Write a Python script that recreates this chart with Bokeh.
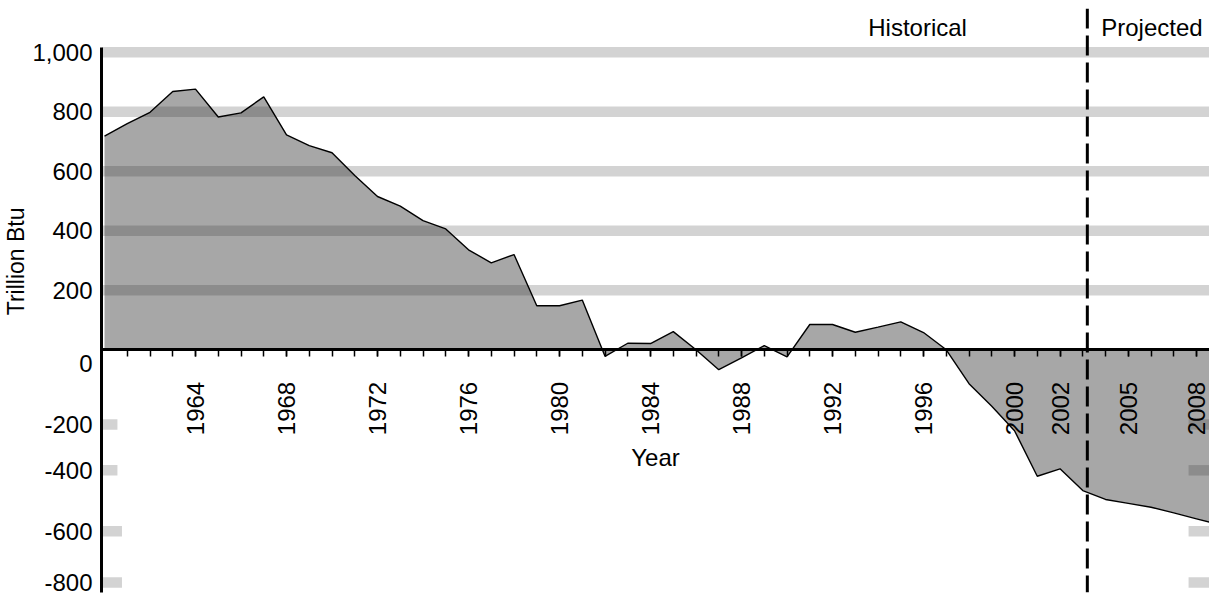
from math import pi
from bokeh.plotting import figure
from bokeh.models import Range1d, FixedTicker, Span, Label, Title
from bokeh.embed import file_html
from bokeh.resources import INLINE

# ---------------- data ----------------
years = list(range(1960, 2010))
values = [718, 760, 798, 868, 876, 782, 796, 850, 722, 686,
          662, 586, 515, 483, 434, 406, 336, 292, 320, 148,
          148, 167, -22, 22, 21, 61, 0, -67, -27, 14,
          -24, 85, 85, 59, 76, 94, 58, 0, -114, -190,
          -272, -425, -400, -473, -503, -516, -529, -548, -568, -588]

label_years = [1964, 1968, 1972, 1976, 1980, 1984, 1988, 1992, 1996, 2000, 2002, 2005, 2008]
minor_years = list(range(1961, 2009))
pos_grid = [1000, 800, 600, 400, 200]
y_tick_labels = ["1,000", "800", "600", "400", "200", "0", "-200", "-400", "-600", "-800"]
projection_start = 2003.2

# ---------------- layout / style constants ----------------
FONT = "Liberation Sans"
FS = "24px"
X_START, X_END = 1959.868, 2008.57
Y_MIN, Y_MAX = -815.6, 1146.8
# where the reference draws its y labels (the original's own placement)
y_tick_pos = [1000, 800, 600, 400, 200, -46, -251, -405, -610, -782]
neg_stub_pos = y_tick_pos[6:]
neg_stub_len = [0.7, 0.7, 0.9, 0.9]

p = figure(width=1209, height=595,
           x_range=Range1d(X_START, X_END), y_range=Range1d(Y_MIN, Y_MAX),
           output_backend="svg", toolbar_location=None,
           min_border_left=101, min_border_right=0, min_border_top=8, min_border_bottom=3)
p.outline_line_color = None
p.grid.visible = False

band_col = "#d3d3d3"
# full-width bands for positive values
p.segment(x0=[X_START] * len(pos_grid), x1=[X_END] * len(pos_grid), y0=pos_grid, y1=pos_grid,
          line_width=10.5, line_color=band_col)
# short stubs for negative values, both edges
p.segment(x0=[X_START] * 4, x1=[X_START + l for l in neg_stub_len], y0=neg_stub_pos, y1=neg_stub_pos,
          line_width=10.5, line_color=band_col)
p.segment(x0=[X_END - 0.92] * 4, x1=[X_END] * 4, y0=neg_stub_pos, y1=neg_stub_pos,
          line_width=10.5, line_color=band_col)

# area
p.varea(x=years, y1=[0] * len(years), y2=values, fill_color="#222222", fill_alpha=0.4)
p.line(years, values, line_color="black", line_width=1.4)

# x axis at zero
xa = p.xaxis[0]
xa.fixed_location = 0
xa.ticker = FixedTicker(ticks=label_years, minor_ticks=minor_years)
xa.major_label_orientation = pi / 2
xa.axis_line_width = 3
xa.axis_line_color = "black"
xa.major_tick_in = 0
xa.major_tick_out = 7
xa.minor_tick_in = 0
xa.minor_tick_out = 7
xa.major_tick_line_width = 1.5
xa.minor_tick_line_width = 1.5
xa.major_tick_line_color = "black"
xa.minor_tick_line_color = "black"
xa.major_label_standoff = 25
xa.major_label_text_font = FONT
xa.major_label_text_font_size = FS
xa.major_label_text_color = "black"
xa.axis_label = "Year"
xa.axis_label_standoff = 6
xa.axis_label_text_font = FONT
xa.axis_label_text_font_size = FS
xa.axis_label_text_font_style = "normal"
xa.axis_label_text_color = "black"

# y axis
ya = p.yaxis[0]
ya.ticker = FixedTicker(ticks=y_tick_pos, minor_ticks=[])
ya.major_label_overrides = {t: s for t, s in zip(y_tick_pos, y_tick_labels)}
ya.bounds = (Y_MIN, 1016)
ya.axis_line_width = 3
ya.axis_line_color = "black"
ya.major_tick_line_color = None
ya.minor_tick_line_color = None
ya.major_label_standoff = 3
ya.major_label_text_font = FONT
ya.major_label_text_font_size = FS
ya.major_label_text_color = "black"

# y title
p.add_layout(Title(text="Trillion Btu", align="right", offset=199, vertical_align="middle",
                   text_font=FONT, text_font_size="23px", text_font_style="normal",
                   text_color="black", standoff=0), "left")

# projection divider
p.add_layout(Span(location=projection_start, dimension="height", line_color="black",
                  line_width=3, line_dash="20 7"))
p.add_layout(Label(x=1995.74, y=1083, text="Historical", text_align="center", text_baseline="middle",
                   text_font=FONT, text_font_size=FS, text_color="black"))
p.add_layout(Label(x=2006.04, y=1083, text="Projected", text_align="center", text_baseline="middle",
                   text_font=FONT, text_font_size=FS, text_color="black"))

open("out.html", "w").write(file_html(p, INLINE))
